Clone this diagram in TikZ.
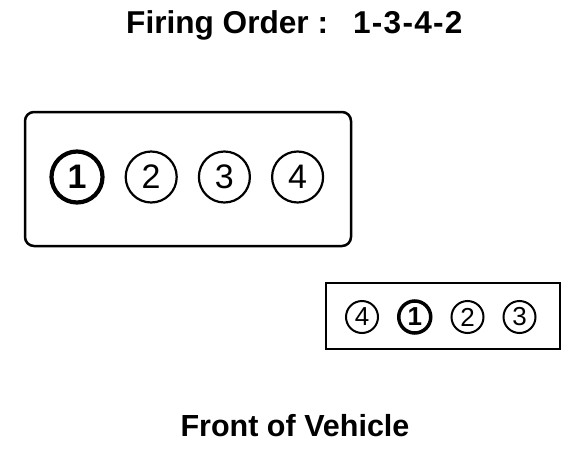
\documentclass[tikz,border=0pt]{standalone}
\usepackage{fontspec}
\setmainfont{Liberation Sans}
\usetikzlibrary{positioning}

\begin{document}
\begin{tikzpicture}[
    x=1pt, y=-1pt,
    cyl/.style={circle, draw, line width=2.2pt, minimum size=51pt, inner sep=0pt,
      font=\fontsize{34}{34}\selectfont},
    cylsmall/.style={circle, draw, line width=2pt, minimum size=32pt, inner sep=0pt,
      font=\fontsize{26}{26}\selectfont},
    lead/.style={line width=4.2pt, font=\fontsize{34}{34}\selectfont\bfseries},
    leadsmall/.style={line width=3.5pt, font=\fontsize{26}{26}\selectfont\bfseries},
    box/.style={line width=2.5pt},
  ]
  \useasboundingbox (0,0) rectangle (576,466);

  % Title
  \node[anchor=base west, inner sep=0pt, font=\fontsize{31.6}{31.6}\selectfont\bfseries]
    (title) at (126,33) {Firing Order :\hspace{25pt}{\addfontfeature{LetterSpace=4}1-3-4-2}};

  % Engine (top view)
  \draw[box, rounded corners=9pt] (25,112) rectangle (351,246);
  \node[cyl, lead] (c1) at (77,177) {1};
  \node[cyl, right=20pt of c1] (c2) {2};
  \node[cyl, right=20pt of c2] (c3) {3};
  \node[cyl, right=20pt of c3] (c4) {4};

  % Distributor cap
  \draw[box] (326,283) rectangle (560,349);
  \node[cylsmall] (d4) at (362,317) {4};
  \node[cylsmall, leadsmall, right=18pt of d4] (d1) {1};
  \node[cylsmall, right=18pt of d1] (d2) {2};
  \node[cylsmall, right=18pt of d2] (d3) {3};

  % Footer
  \node[anchor=base, inner sep=0pt, font=\fontsize{30.5}{30.5}\selectfont\bfseries]
    (front) at (295,436) {Front of Vehicle};
\end{tikzpicture}
\end{document}
